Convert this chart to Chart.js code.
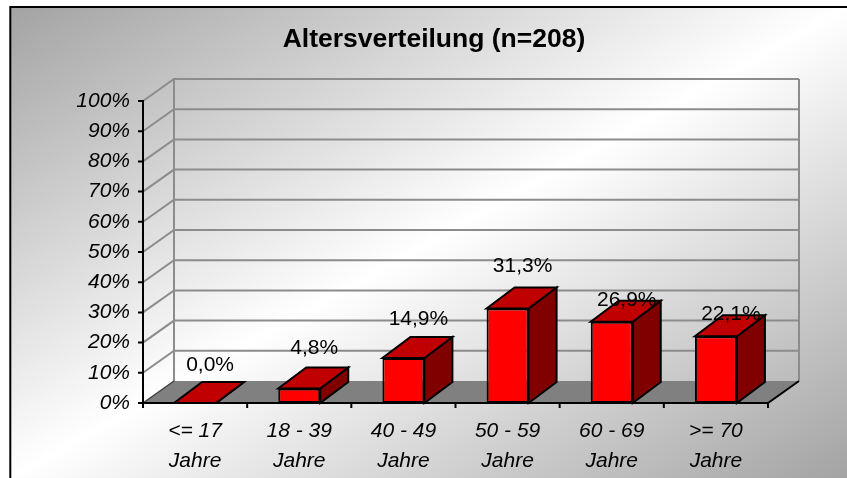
<!DOCTYPE html>
<html><head><meta charset="utf-8">
<script src="https://cdn.jsdelivr.net/npm/chart.js@4.4.0/dist/chart.umd.min.js"></script>
<style>html,body{margin:0;padding:0;background:#fff;overflow:hidden}</style>
</head><body>
<canvas id="c" width="847" height="478"></canvas>
<script>
const titleText = "Altersverteilung (n=208)";
const categories = [["<= 17","Jahre"],["18 - 39","Jahre"],["40 - 49","Jahre"],["50 - 59","Jahre"],["60 - 69","Jahre"],[">= 70","Jahre"]];
const shares = [0.0, 4.8, 14.9, 31.3, 26.9, 22.1];
const yTicks = [0, 10, 20, 30, 40, 50, 60, 70, 80, 90, 100];

const FONT = "'Liberation Sans', Arial, Helvetica, sans-serif";
const fmt = v => v.toFixed(1).replace('.', ',') + '%';

const threeD = {
  id: 'threeD',
  beforeDraw(chart) {
    const {ctx, width, height} = chart;
    ctx.save();
    ctx.fillStyle = '#fff';
    ctx.fillRect(0, 0, width, height);
    const fx = 10.3, fy = 7;
    const w = width - fx, h = height - fy;
    const t = 2 * w * h / (w * w + h * h);
    const g = ctx.createLinearGradient(fx, fy, fx + t * h, fy + t * w);
    g.addColorStop(0, '#a3a3a3');
    g.addColorStop(0.5, '#ffffff');
    g.addColorStop(1, '#a3a3a3');
    ctx.fillStyle = g;
    ctx.fillRect(fx, fy, w + 20, h + 20);
    ctx.lineWidth = 2;
    ctx.strokeStyle = '#000';
    ctx.strokeRect(fx, fy, w + 20, h + 20);
    ctx.restore();
  },
  beforeDatasetsDraw(chart, args, o) {
    const {ctx, chartArea: a, scales: {x, y}} = chart;
    const dx = o.depthX, dy = o.depthY;
    const y0 = y.getPixelForValue(0), yTop = y.getPixelForValue(100);
    ctx.save();
    ctx.beginPath();
    ctx.moveTo(a.left, y0); ctx.lineTo(a.right, y0);
    ctx.lineTo(a.right + dx, y0 + dy); ctx.lineTo(a.left + dx, y0 + dy);
    ctx.closePath();
    ctx.fillStyle = '#808080';
    ctx.fill();
    ctx.strokeStyle = '#8c8c8c';
    ctx.lineWidth = 2;
    y.ticks.forEach(tk => {
      if (tk.value === 0) return;
      const py = y.getPixelForValue(tk.value);
      ctx.beginPath();
      ctx.moveTo(a.left, py);
      ctx.lineTo(a.left + dx, py + dy);
      ctx.lineTo(a.right + dx, py + dy);
      ctx.stroke();
    });
    ctx.beginPath();
    ctx.moveTo(a.left + dx, yTop + dy); ctx.lineTo(a.left + dx, y0 + dy);
    ctx.moveTo(a.right + dx, yTop + dy); ctx.lineTo(a.right + dx, y0 + dy);
    ctx.stroke();
    ctx.strokeStyle = '#404040'; ctx.lineWidth = 1.5;
    ctx.beginPath(); ctx.moveTo(a.left, y0); ctx.lineTo(a.left + dx, y0 + dy); ctx.stroke();
    ctx.strokeStyle = '#000'; ctx.lineWidth = 2;
    ctx.beginPath();
    ctx.moveTo(a.left, yTop - 1); ctx.lineTo(a.left, y0);
    ctx.lineTo(a.right, y0); ctx.lineTo(a.right + dx, y0 + dy);
    ctx.stroke();
    ctx.beginPath();
    y.ticks.forEach(tk => {
      const py = y.getPixelForValue(tk.value);
      ctx.moveTo(a.left - 5, py); ctx.lineTo(a.left, py);
    });
    const n = x.getLabels().length;
    for (let i = 0; i <= n; i++) {
      const px = a.left + i * (a.right - a.left) / n;
      ctx.moveTo(px, y0); ctx.lineTo(px, y0 + 5);
    }
    ctx.stroke();
    ctx.restore();
  },
  afterDatasetsDraw(chart, args, o) {
    const {ctx} = chart;
    const meta = chart.getDatasetMeta(0);
    const bdx = o.barDepthX, bdy = o.barDepthY;
    ctx.save();
    ctx.lineWidth = 2; ctx.strokeStyle = '#000'; ctx.lineJoin = 'miter';
    meta.data.forEach(bar => {
      const l = bar.x - bar.width / 2, r = bar.x + bar.width / 2, top = bar.y, base = bar.base;
      ctx.beginPath();
      ctx.moveTo(r, top); ctx.lineTo(r + bdx, top + bdy); ctx.lineTo(r + bdx, base + bdy); ctx.lineTo(r, base);
      ctx.closePath();
      ctx.fillStyle = '#800000'; ctx.fill(); ctx.stroke();
      ctx.beginPath();
      ctx.moveTo(l, top); ctx.lineTo(r, top); ctx.lineTo(r + bdx, top + bdy); ctx.lineTo(l + bdx, top + bdy);
      ctx.closePath();
      ctx.fillStyle = '#c00000'; ctx.fill(); ctx.stroke();
    });
    ctx.fillStyle = '#000';
    ctx.font = '21px ' + FONT;
    ctx.textAlign = 'center'; ctx.textBaseline = 'middle';
    meta.data.forEach((bar, i) => {
      ctx.fillText(fmt(shares[i]), bar.x + o.labelShift, bar.y - o.labelLift[i]);
    });
    ctx.restore();
  }
};

new Chart(document.getElementById('c'), {
  type: 'bar',
  data: {
    labels: categories,
    datasets: [{
      data: shares,
      backgroundColor: '#ff0000',
      borderColor: '#000000',
      borderWidth: 2,
      borderSkipped: false,
      barPercentage: 0.403,
      categoryPercentage: 1.0
    }]
  },
  options: {
    responsive: false,
    animation: false,
    devicePixelRatio: 1,
    layout: {padding: {left: 21, right: 0, top: 0, bottom: 0}},
    plugins: {
      legend: {display: false},
      tooltip: {enabled: false},
      title: {
        display: true, text: titleText, color: '#000',
        font: {family: FONT, size: 26.5, weight: 'bold', lineHeight: 1.2},
        padding: {top: 24.1, bottom: 45.1}
      },
      threeD: {depthX: 31, depthY: -22, barDepthX: 28, barDepthY: -21, labelShift: 15,
               labelLift: [38, 40, 39, 42, 22, 22.5]}
    },
    scales: {
      x: {
        grid: {display: false, drawTicks: false},
        border: {display: false},
        ticks: {color: '#000', padding: 12.7, maxRotation: 0, autoSkip: false,
                font: {family: FONT, size: 21, style: 'italic', lineHeight: 30 / 21}},
        afterFit: s => { s.height = 75; }
      },
      y: {
        min: 0, max: 100,
        grid: {display: false, drawTicks: false},
        border: {display: false},
        afterBuildTicks: s => { s.ticks = yTicks.map(v => ({value: v})); },
        ticks: {color: '#000', padding: 13, callback: v => v + '%',
                font: {family: FONT, size: 21, style: 'italic'}},
        afterFit: s => { s.width = 122; }
      },
      rightGap: {
        type: 'linear', position: 'right', min: 0, max: 1,
        grid: {display: false, drawTicks: false},
        border: {display: false},
        ticks: {display: false},
        afterFit: s => { s.width = 79; }
      }
    }
  },
  plugins: [threeD]
});
</script>
</body></html>
